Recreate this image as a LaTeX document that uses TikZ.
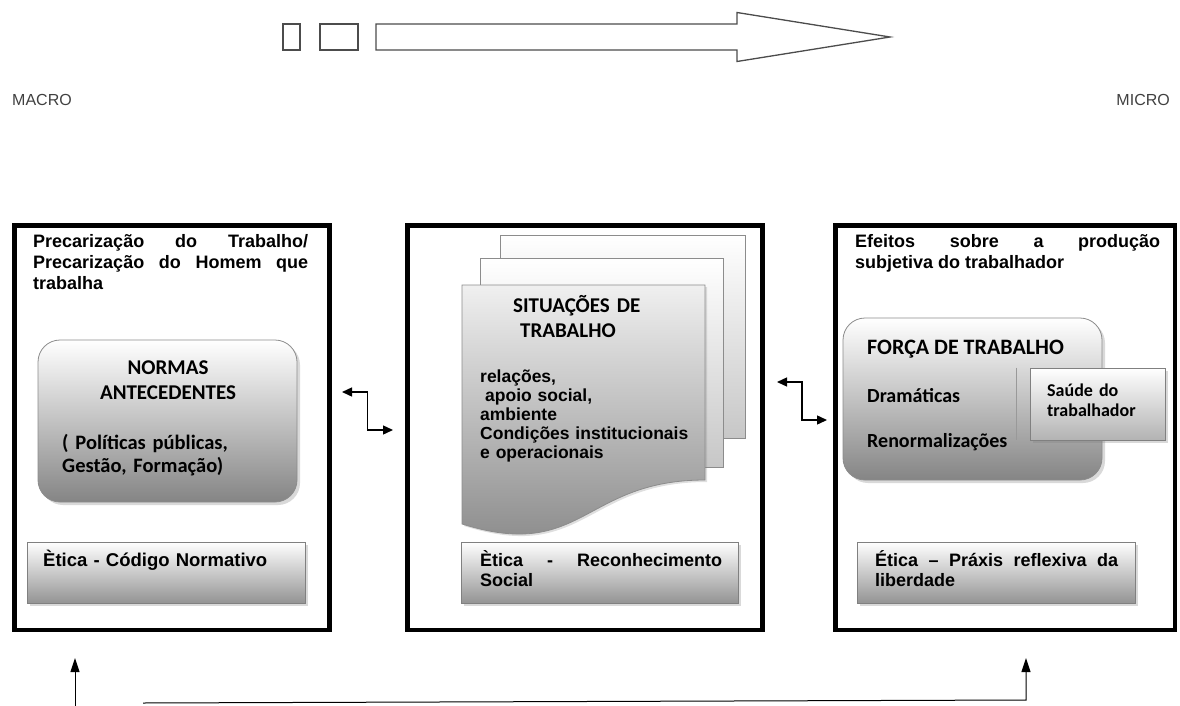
\documentclass[tikz,border=0pt]{standalone}
\usepackage{fontspec}
\setmainfont{Liberation Sans}
\newfontfamily\calibri{Carlito}
\usetikzlibrary{arrows.meta,calc,shadows}
\tolerance=9999
\hyphenpenalty=10000

\begin{document}
\begin{tikzpicture}[x=1pt,y=-1pt,
  bigbox/.style={draw=black,line width=4.5pt,inner sep=0pt,outer sep=0pt},
  soft/.style={draw=black!45,line width=0.8pt,rounded corners=22pt,inner sep=0pt,
    top color=white,middle color=black!14,bottom color=black!48,
    drop shadow={shadow xshift=3pt,shadow yshift=-3pt,opacity=0.3}},
  etica/.style={draw=black!50,line width=0.8pt,inner sep=0pt,
    top color=white,bottom color=black!42,
    drop shadow={shadow xshift=3pt,shadow yshift=-3pt,opacity=0.3}},
  page/.style={draw=black!45,line width=0.8pt,inner sep=0pt,top color=white,bottom color=black!22},
  front/.style={draw=black!45,line width=0.8pt,top color=black!6,bottom color=black!48},
  txt/.style={inner sep=0pt,align=left,anchor=base west},
  hdr/.style={txt,font=\bfseries\fontsize{18}{21}\selectfont,align=justify},
  cal/.style={txt,font=\calibri\bfseries\fontsize{21}{25}\selectfont},
  link/.style={{Triangle[length=10pt,width=9pt]}-{Triangle[length=10pt,width=9pt]},line width=1.4pt},
  up/.style={-{Triangle[length=14pt,width=9pt]},line width=1pt}
]
\useasboundingbox (0,0) rectangle (1180,706);

\node[txt,font=\fontsize{16}{18}\selectfont,text=black!75] (macro) at (12,106) {MACRO};
\node[txt,anchor=base east,font=\fontsize{16}{18}\selectfont,text=black!75] (micro) at (1170,106) {MICRO};

\node[draw=black!70,line width=1.3pt,minimum width=17,minimum height=26,inner sep=0pt] (sq1) at (291.5,37) {};
\node[draw=black!70,line width=1.3pt,minimum width=38,minimum height=26,inner sep=0pt] (sq2) at (339,37) {};
\draw[black!70,line width=1.3pt,fill=white] (376,24) -- (737,24) -- (737,12.5) -- (890,37)
  -- (737,61.5) -- (737,50) -- (376,50) -- cycle;

\node[bigbox,minimum width=315,minimum height=404.5] (esq) at (172,427.75) {};
\node[bigbox,minimum width=355,minimum height=404.5] (meio) at (585,427.75) {};
\node[bigbox,minimum width=339.5,minimum height=404.5] (dir) at (1005.25,427.75) {};

\node[hdr,text width=275] (precar) at (33,247) {Precarização do Trabalho/\linebreak Precarização do Homem que\linebreak trabalha};
\node[hdr,text width=305] (efeitos) at (855,247) {Efeitos sobre a produção\linebreak subjetiva do trabalhador};

\node[soft,minimum width=259,minimum height=162] (normas) at (167.5,421) {};
\node[cal,anchor=base,align=center,text width=220] (normtxt) at (168,374) {NORMAS\\ANTECEDENTES};
\node[txt,font=\calibri\bfseries\fontsize{20.5}{23}\selectfont,text width=230] (polit) at (62,449) {( Políticas públicas,\\Gestão, Formação)};

\node[page,minimum width=245,minimum height=203] (pag3) at (622.5,336.5) {};
\node[page,minimum width=243,minimum height=209] (pag2) at (601.5,362.5) {};
\path[front,drop shadow={shadow xshift=2pt,shadow yshift=-2pt,opacity=0.25}] (462,285) -- (705,285) -- (705,480)
  .. controls (583,480) and (583,562) .. (462,524) -- cycle;
\node[cal,text width=200] (sit) at (513,312) {SITUAÇÕES DE\\\hspace*{7pt}TRABALHO};
\node[txt,font=\bfseries\fontsize{17.5}{19}\selectfont,text width=240] (rel) at (480,382)
  {relações,\\\hspace*{5pt}apoio social,\\ambiente\\Condições institucionais\\e operacionais};

\node[soft,minimum width=259,minimum height=162] (forca) at (972.5,399) {};
\node[txt,font=\calibri\bfseries\fontsize{22}{26}\selectfont] (forcatxt) at (867,354) {FORÇA DE TRABALHO};
\node[txt,font=\calibri\bfseries\fontsize{20}{24}\selectfont] (dram) at (867,402) {Dramáticas};
\node[txt,font=\calibri\bfseries\fontsize{20}{24}\selectfont] (renorm) at (867,447) {Renormalizações};
\node[etica,bottom color=black!30,minimum width=135,minimum height=72] (saude) at (1097.5,404) {};
\draw[black!40,line width=0.8pt] ($(saude.north west)+(-13,0)$) -- ($(saude.south west)+(-13,0)$);
\node[txt,font=\calibri\bfseries\fontsize{18}{20}\selectfont,text width=115] (saudetxt) at (1047,396) {Saúde do\\trabalhador};

\node[etica,minimum width=278,minimum height=61] (eticaE) at (166,572.5) {};
\node[etica,minimum width=277,minimum height=61] (eticaM) at (599.5,572.5) {};
\node[etica,minimum width=278,minimum height=61] (eticaD) at (996,572.5) {};
\node[txt,font=\bfseries\fontsize{18.5}{20}\selectfont,text width=260] (codigo) at (43,566) {Ètica - Código Normativo};
\node[hdr,font=\bfseries\fontsize{18}{20}\selectfont,text width=242] (reconh) at (480,566) {Ètica - Reconhecimento\linebreak Social};
\node[hdr,font=\bfseries\fontsize{18}{20}\selectfont,text width=243] (praxis) at (875,566) {Ética – Práxis reflexiva da\linebreak liberdade};

\coordinate (a1) at (342,392);
\coordinate (a2) at (393,430);
\draw[link] (a1) -| ($(a1)!.5!(a2)$) |- (a2);
\coordinate (d1) at (777,382);
\coordinate (d2) at (827,420);
\draw[link] (d1) -| ($(d1)!.5!(d2)$) |- (d2);

\coordinate (b1) at (75,706);
\coordinate (b2) at (75,658);
\draw[up] (b1) -- (b2);
\coordinate (c1) at (143,703);
\coordinate (c2) at (1026,700);
\coordinate (c3) at (1026,658);
\draw[up] (c1) -- (c2) -- (c3);
\end{tikzpicture}
\end{document}
